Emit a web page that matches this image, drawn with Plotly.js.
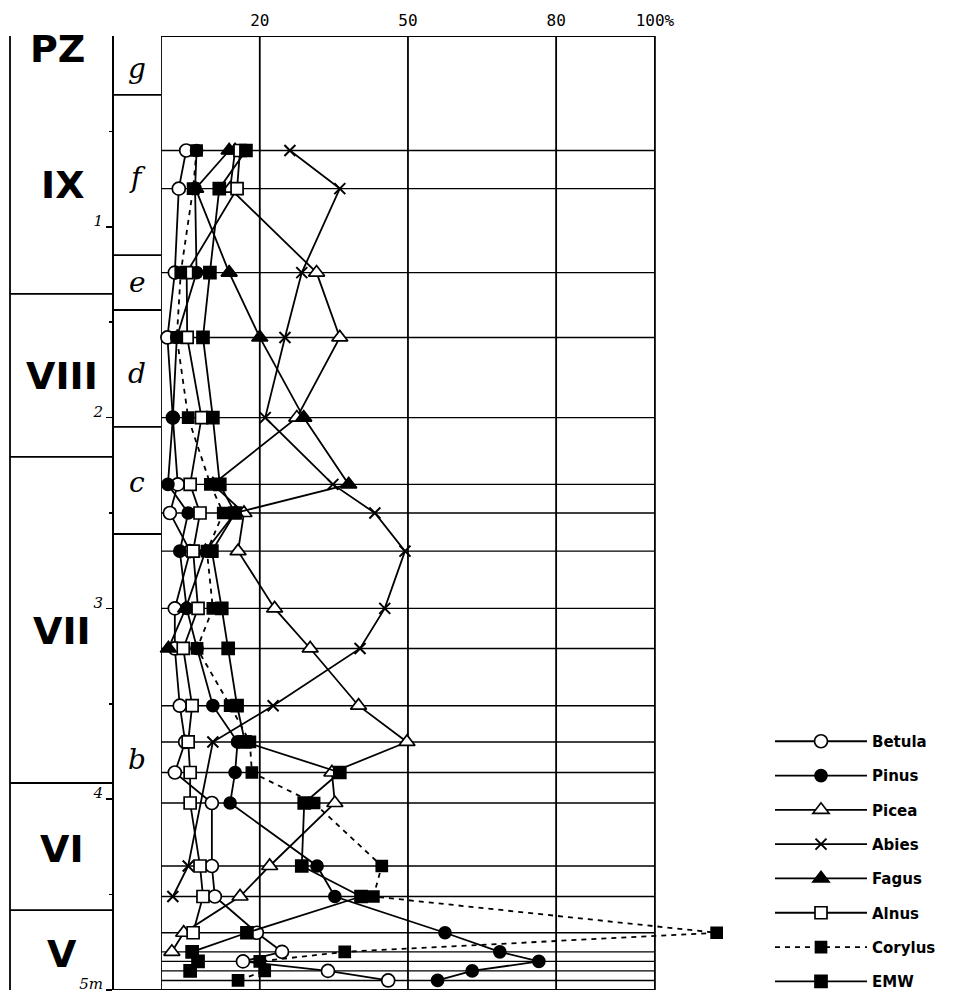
<!DOCTYPE html>
<html><head><meta charset="utf-8">
<script src="https://cdn.plot.ly/plotly-3.0.1.min.js"></script>
<style>html,body{margin:0;padding:0;background:#fff}#chart{width:964px;height:994px}</style>
</head><body><div id="chart"></div>
<script>
// sample depths (m)
const depths = [0.60, 0.80, 1.24, 1.58, 2.00, 2.35, 2.50, 2.70, 3.00, 3.21, 3.51, 3.70, 3.86, 4.02, 4.35, 4.51, 4.70, 4.80, 4.85, 4.90, 4.95];
// pollen percentages per sample (null = not recorded)
const betula  = [5.1, 3.6, 2.8, 1.3, 2.4, 3.4, 1.8, 5.9, 2.8, 2.8, 3.8, 4.9, 2.8, 10.3, 10.3, 10.9, 19.4, 24.5, 16.6, 33.8, 46];
const pinus   = [7.2, 6.9, 7.2, 3.2, 2.4, 1.4, 5.5, 3.8, 5.2, 7.3, 10.5, 15.5, 15, 14, 31.6, 35.2, 57.5, 68.6, 76.5, 63, 56];
const picea   = [15, 14, 31.5, 36.2, 27.5, 10.5, 16.8, 15.6, 23, 30.2, 40, 49.8, 34.6, 35.2, 22, 16, 4.6, 2.2, null, null, null];
const abies   = [26.1, 36.2, 28.5, 25.1, 21.1, 34.8, 43.3, 49.4, 45.3, 40.3, 22.7, 10.5, null, null, 5.5, 2.4, null, null, null, null, null];
const fagus   = [13.8, 7, 13.8, 20, 28.9, 38, 15, 9, 5, 1.5, null, null, null, null, null, null, null, null, null, null, null];
const alnus   = [16, 15.4, 5.2, 5.3, 8.2, 5.9, 7.9, 6.5, 7.5, 4.5, 6.3, 5.5, 5.9, 5.9, 7.9, 8.5, 6.5, null, null, null, null];
const corylus = [7.2, 6.5, 4, 3.2, 5.5, 10, 12.6, 9.3, 10.5, 7.3, 14, 18, 18.4, 31, 44.7, 43, 112.5, 37.2, 20, 21, 15.6];
const emw     = [17.2, 11.8, 9.9, 8.5, 10.5, 11.9, 15, 10.3, 12.3, 13.6, 15.4, 17, 36.2, 29, 28.5, 40.5, 17.4, 6.3, 7.5, 5.9, null];

const taxa = ['Betula', 'Pinus', 'Picea', 'Abies', 'Fagus', 'Alnus', 'Corylus', 'EMW'];
const series = [betula, pinus, picea, abies, fagus, alnus, corylus, emw];

const xTickVals = [20, 50, 80, 100];
const xTickText = ['20', '50', '80', '100%'];
const gridVals = [0, 20, 50, 80, 100];
const depthTickVals = [1, 2, 3, 4, 5];
const depthTickText = ['1', '2', '3', '4', '5m'];

// pollen zones (PZ) and sub-zones
const zoneNames = ['PZ', 'IX', 'VIII', 'VII', 'VI', 'V'];
const zoneLabelDepths = [0.07, 0.78, 1.78, 3.12, 4.26, 4.81];
const zoneBounds = [1.352, 2.206, 3.915, 4.581];
const subNames = ['g', 'f', 'e', 'd', 'c', 'b'];
const subLabelDepths = [0.17, 0.74, 1.29, 1.77, 2.34, 3.79];
const subBounds = [0.309, 1.148, 1.436, 2.049, 2.610, 5.0];

const styles = {
  Betula:  {symbol: 'circle', color: '#fff', size: 13, dash: 'solid'},
  Pinus:   {symbol: 'circle', color: '#000', size: 12, dash: 'solid'},
  Picea:   {symbol: 'triangle-up', color: '#fff', size: 14, dash: 'solid'},
  Abies:   {symbol: 'x-thin', color: '#000', size: 11, dash: 'solid'},
  Fagus:   {symbol: 'triangle-up', color: '#000', size: 14, dash: 'solid'},
  Alnus:   {symbol: 'square', color: '#fff', size: 12, dash: 'solid'},
  Corylus: {symbol: 'square', color: '#000', size: 11, dash: '5px,5px'},
  EMW:     {symbol: 'square', color: '#000', size: 12, dash: 'solid'}
};

const traces = taxa.map((name, i) => {
  const s = styles[name];
  return {
    type: 'scatter', mode: 'lines+markers', name: name,
    x: series[i], y: depths, connectgaps: true, cliponaxis: false,
    legendgroup: name,
    line: {color: '#000', width: 1.8, dash: s.dash},
    marker: {symbol: s.symbol, size: s.size, color: s.color,
             line: {color: '#000', width: s.symbol === 'x-thin' ? 2 : 1.7}},
    hoverinfo: 'x+y+name'
  };
});

const L = 10, PLOT_R = 729;
const px2paper = p => (p - L) / (PLOT_R - L);
const xPZ = px2paper(10), xSub = px2paper(112), xPlot = px2paper(161);

const shapes = [];
const ln = (o) => Object.assign({type: 'line', layer: 'below', line: {color: '#000', width: 1.8}}, o);
// frame: vertical grid lines of the percentage scale
gridVals.forEach(v => shapes.push(ln({xref: 'x', yref: 'y', x0: v, x1: v, y0: 0, y1: 5})));
// top & bottom borders
shapes.push(ln({xref: 'x', yref: 'y', x0: 0, x1: 100, y0: 0, y1: 0}));
shapes.push(ln({xref: 'x', yref: 'y', x0: 0, x1: 100, y0: 5, y1: 5}));
// sample-level lines
depths.forEach(d => shapes.push(ln({xref: 'x', yref: 'y', x0: 0, x1: 100, y0: d, y1: d, line: {color: '#000', width: 1.4}})));
// PZ column
shapes.push(ln({xref: 'paper', yref: 'y', x0: xPZ, x1: xPZ, y0: -0.01, y1: 5}));
zoneBounds.forEach(d => shapes.push(ln({xref: 'paper', yref: 'y', x0: xPZ, x1: xSub, y0: d, y1: d})));
// sub-zone column
subBounds.forEach(d => shapes.push(ln({xref: 'paper', yref: 'y', x0: xSub, x1: xPlot, y0: d, y1: d})));

const annotations = [];
zoneNames.forEach((n, i) => annotations.push({
  xref: 'paper', yref: 'y', x: px2paper(i === 0 ? 57 : 62), y: zoneLabelDepths[i], text: n, showarrow: false,
  xanchor: 'center', yanchor: 'middle',
  font: {family: 'DejaVu Sans', size: 38, weight: 'bold', color: '#000'}
}));
subNames.forEach((n, i) => annotations.push({
  xref: 'paper', yref: 'y', x: px2paper(137), y: subLabelDepths[i], text: n, showarrow: false,
  xanchor: 'center', yanchor: 'middle',
  font: {family: 'DejaVu Serif', size: 28, style: 'italic', color: '#000'}
}));

const layout = {
  width: 964, height: 994,
  margin: {l: L, r: 964 - PLOT_R, t: 36, b: 4, autoexpand: false},
  paper_bgcolor: '#fff', plot_bgcolor: 'rgba(0,0,0,0)',
  font: {family: 'DejaVu Sans', color: '#000'},
  showlegend: true,
  xaxis: {
    domain: [xPlot, 1], range: [0, 115], side: 'top',
    tickvals: xTickVals, ticktext: xTickText, ticks: '', ticklabelstandoff: 6,
    showgrid: false, zeroline: false, showline: false,
    tickfont: {family: 'DejaVu Sans Mono', size: 16, color: '#000'}, fixedrange: true
  },
  yaxis: {
    range: [5, 0], anchor: 'free', position: xSub,
    showline: true, linecolor: '#000', linewidth: 1.8,
    tickvals: depthTickVals, ticktext: depthTickText,
    ticks: 'outside', ticklen: 6, tickwidth: 1.5, tickcolor: '#000',
    minor: {tickvals: [0.5, 1.5, 2.5, 3.5, 4.5], ticks: 'outside', ticklen: 3, tickcolor: '#000'},
    showgrid: false, zeroline: false, ticklabelshift: 6, ticklabeloverflow: 'allow',
    tickfont: {family: 'DejaVu Serif', size: 15, style: 'italic', color: '#000'}, fixedrange: true
  },
  legend: {
    x: px2paper(770), y: (990 - 725) / 954, xanchor: 'left', yanchor: 'top',
    font: {family: 'DejaVu Sans', size: 15, weight: 'bold', color: '#000'},
    itemwidth: 92, tracegroupgap: 11.8, bgcolor: 'rgba(0,0,0,0)', traceorder: 'grouped'
  },
  shapes: shapes,
  annotations: annotations
};

Plotly.newPlot('chart', traces, layout, {displayModeBar: false, staticPlot: true});
</script>
</body></html>
